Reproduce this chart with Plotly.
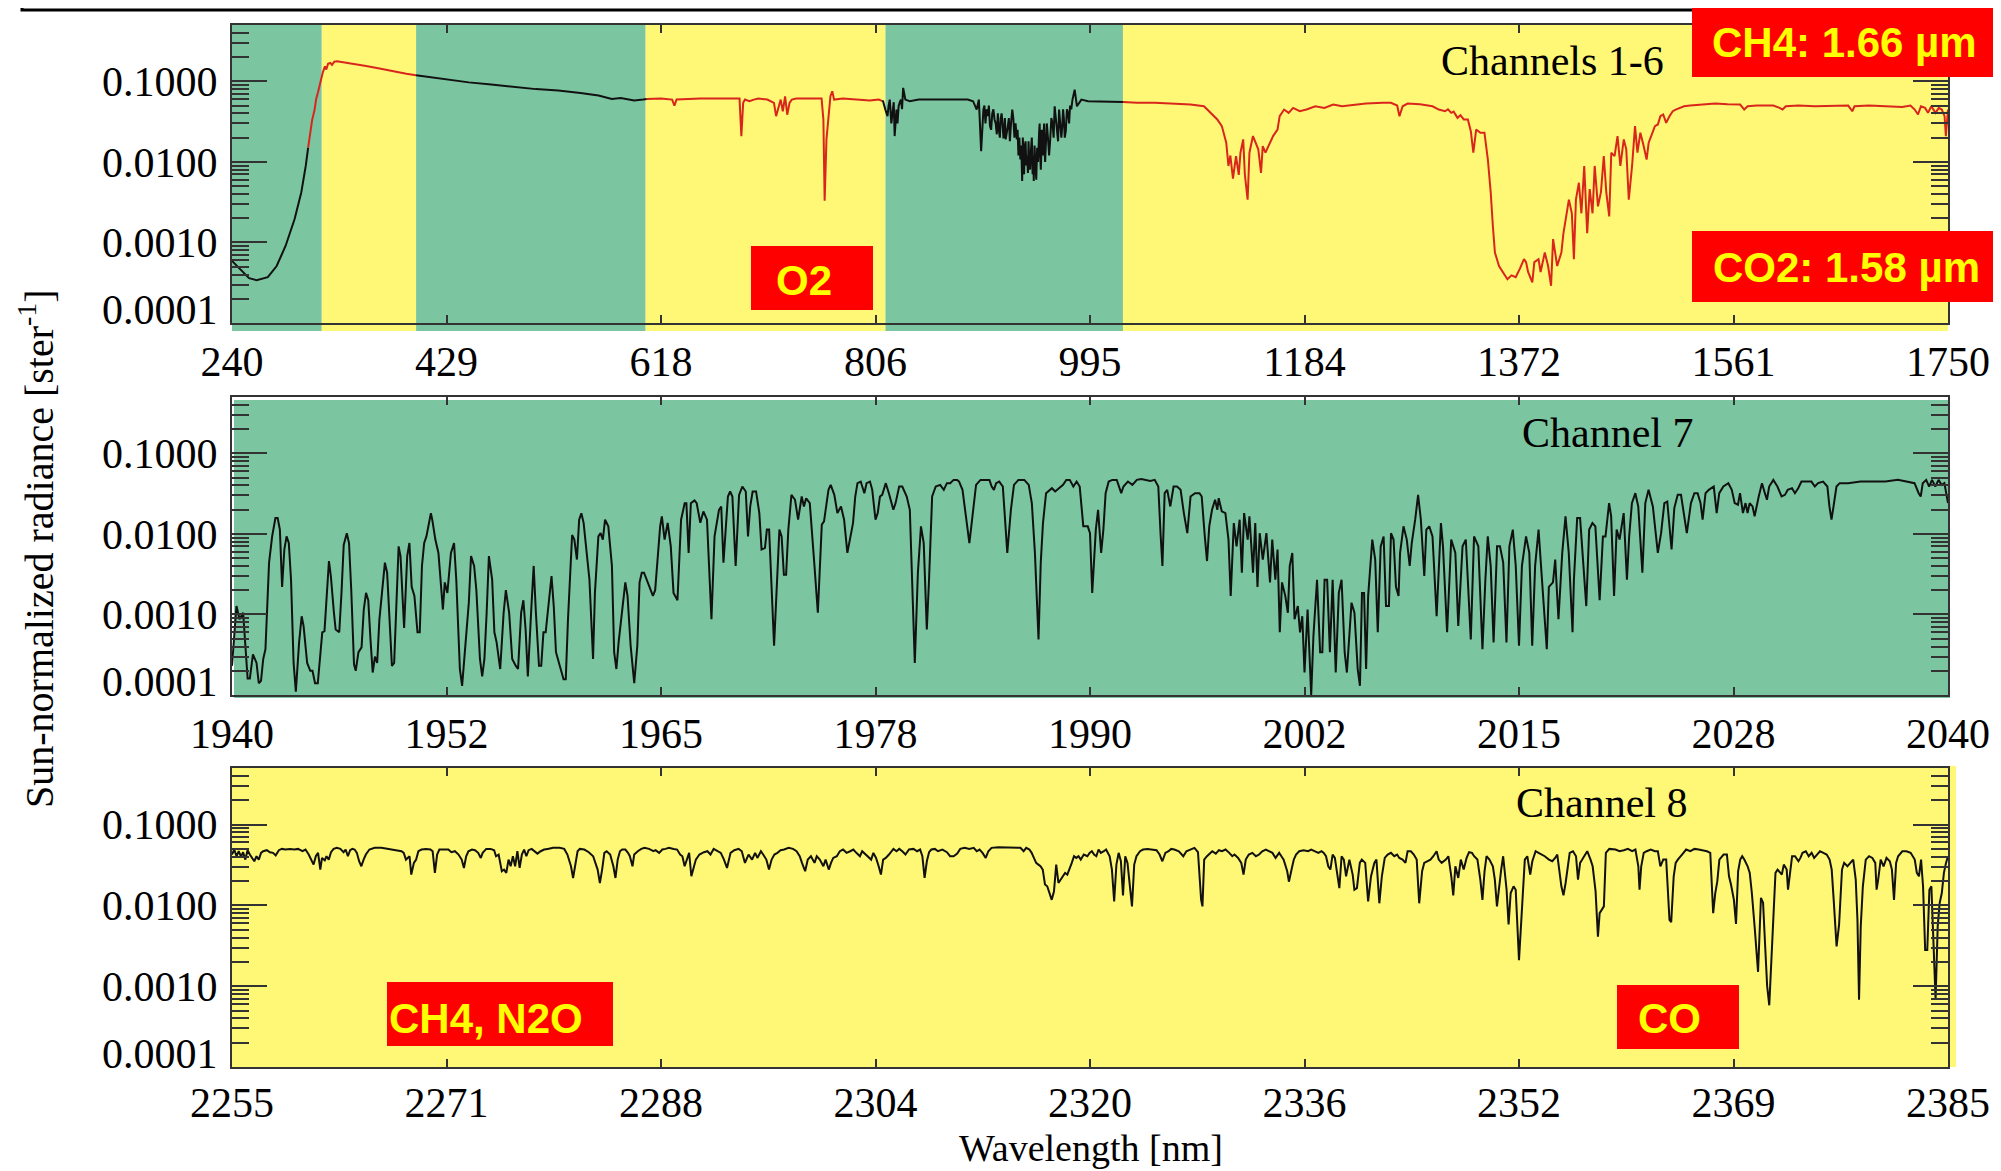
import numpy as np
import plotly.graph_objects as go

# ---------------- data ----------------
# Channels 1-6 (240-1750 nm)
ch16_wavelength = [
    240.0, 249.8, 255.0, 261.6, 271.5, 279.3, 287.2, 295.1, 301.0, 304.9, 306.8, 308.8, 310.5, 312.7, 314.0,
    315.5, 317.0, 318.6, 320.0, 321.8, 323.0, 324.5, 326.5, 328.0, 330.0, 332.4, 338.3, 346.2, 358.0, 369.8,
    381.6, 393.4, 402.0, 413.0, 428.8, 448.4, 468.1, 487.7, 507.4, 527.1, 546.7, 562.5, 574.2, 582.1, 588.0,
    593.9, 601.8, 604.5, 617.5, 627.3, 629.3, 631.2, 652.1, 671.7, 686.6, 688.2, 689.8, 691.4, 695.3, 699.2,
    703.2, 711.0, 716.9, 718.8, 720.8, 722.8, 724.7, 726.7, 728.6, 730.6, 732.6, 736.5, 746.3, 758.8, 760.4,
    761.5, 763.1, 765.1, 766.6, 768.2, 769.8, 777.6, 789.4, 801.2, 809.0, 812.9, 814.9, 816.8, 818.8, 821.5,
    823.1, 824.7, 826.6, 828.6, 830.6, 832.5, 836.4, 844.3, 856.1, 871.9, 887.4, 892.1, 895.3, 897.2, 899.2,
    901.2, 903.0, 905.1, 907.0, 909.0, 911.0, 913.0, 914.9, 916.5, 918.0, 919.5, 920.8, 922.7, 924.5, 926.6,
    928.5, 930.6, 932.0, 933.7, 935.3, 936.5, 937.6, 939.0, 940.4, 941.5, 943.1, 944.5, 945.5, 947.0, 948.5,
    950.2, 951.2, 952.1, 953.0, 954.1, 955.0, 956.1, 958.0, 960.0, 962.0, 963.9, 965.9, 967.8, 969.0, 970.6,
    972.0, 973.7, 975.7, 977.5, 979.6, 981.5, 983.5, 987.4, 993.3, 1005.1, 1023.9, 1036.4, 1052.1, 1067.8, 1083.5,
    1095.3, 1101.2, 1107.0, 1111.0, 1114.9, 1116.8, 1118.5, 1120.8, 1123.5, 1125.9, 1127.4, 1129.8, 1131.3, 1133.7, 1135.3,
    1138.4, 1140.4, 1143.1, 1145.5, 1147.0, 1149.4, 1152.1, 1156.1, 1160.0, 1161.9, 1165.8, 1169.8, 1173.7, 1179.6, 1185.5,
    1193.3, 1201.2, 1209.0, 1216.8, 1223.3, 1237.9, 1252.5, 1259.8, 1265.3, 1267.3, 1270.1, 1274.5, 1285.4, 1296.4, 1301.9,
    1307.4, 1310.0, 1312.9, 1315.0, 1318.4, 1321.0, 1323.9, 1327.5, 1330.1, 1332.3, 1334.8, 1338.5, 1342.1, 1345.1, 1347.6,
    1349.5, 1351.3, 1354.9, 1358.6, 1362.3, 1365.9, 1369.6, 1373.2, 1376.9, 1378.7, 1380.5, 1384.2, 1386.0, 1389.7, 1391.5,
    1395.2, 1398.1, 1400.7, 1402.5, 1406.1, 1409.8, 1411.6, 1414.2, 1416.4, 1419.0, 1420.8, 1422.6, 1425.2, 1427.4, 1429.9,
    1432.5, 1434.7, 1437.2, 1439.1, 1442.0, 1444.6, 1447.1, 1449.3, 1451.9, 1453.7, 1456.6, 1459.2, 1461.7, 1464.7, 1466.9,
    1469.1, 1472.0, 1474.6, 1476.7, 1479.3, 1482.2, 1484.8, 1486.6, 1489.5, 1492.1, 1494.7, 1496.9, 1499.4, 1502.0, 1504.9,
    1507.8, 1510.4, 1514.1, 1517.7, 1523.2, 1534.2, 1545.1, 1556.1, 1567.1, 1570.7, 1573.7, 1581.7, 1596.3, 1601.8, 1604.4,
    1607.3, 1618.3, 1632.9, 1647.5, 1662.2, 1665.8, 1667.7, 1680.5, 1698.8, 1709.7, 1717.0, 1720.7, 1723.6, 1726.2, 1729.8,
    1732.4, 1735.3, 1739.0, 1741.9, 1744.5, 1747.0, 1748.1, 1750.0,
]
ch16_radiance = [
    0.00059, 0.00043, 0.00036, 0.00034, 0.00037, 0.00051, 0.00091, 0.00195, 0.0042, 0.0089, 0.0143, 0.023, 0.033, 0.0446, 0.06,
    0.0718, 0.09, 0.115, 0.13, 0.153, 0.14, 0.165, 0.169, 0.16, 0.175, 0.177, 0.172, 0.164, 0.155, 0.144,
    0.133, 0.124, 0.119, 0.113, 0.105, 0.097, 0.091, 0.085, 0.080, 0.0767, 0.0718, 0.0665, 0.0604, 0.0622, 0.0593,
    0.0577, 0.0593, 0.0604, 0.061, 0.0593, 0.05, 0.0593, 0.061, 0.061, 0.061, 0.0209, 0.054, 0.0593, 0.0566, 0.0593,
    0.061, 0.0593, 0.054, 0.0369, 0.049, 0.0593, 0.0425, 0.0652, 0.0385, 0.054, 0.0593, 0.061, 0.061, 0.061, 0.0336,
    0.0033, 0.019, 0.0446, 0.0652, 0.0752, 0.0593, 0.061, 0.0593, 0.0577, 0.0593, 0.0566, 0.0446, 0.0369, 0.0593, 0.0406,
    0.0209, 0.0446, 0.049, 0.0593, 0.0828, 0.0593, 0.0566, 0.0593, 0.0593, 0.0593, 0.0593, 0.0566, 0.0446, 0.0593, 0.0136,
    0.0446, 0.03, 0.0369, 0.0278, 0.04, 0.0336, 0.022, 0.024, 0.035, 0.0305, 0.02, 0.019, 0.0278, 0.018, 0.0446,
    0.02, 0.019, 0.012, 0.0107, 0.0058, 0.012, 0.0157, 0.009, 0.0073, 0.011, 0.0143, 0.007, 0.0058, 0.0089, 0.015,
    0.023, 0.012, 0.0118, 0.02, 0.0278, 0.015, 0.0157, 0.02, 0.019, 0.03, 0.049, 0.0278, 0.0446, 0.03, 0.0278,
    0.035, 0.024, 0.0406, 0.05, 0.0593, 0.0789, 0.049, 0.0593, 0.0566, 0.0566, 0.0555, 0.054, 0.054, 0.053, 0.0515,
    0.049, 0.0406, 0.0336, 0.0278, 0.0173, 0.0089, 0.012, 0.0062, 0.0118, 0.0069, 0.013, 0.019, 0.0069, 0.0034, 0.013,
    0.0209, 0.0173, 0.0143, 0.0073, 0.0157, 0.013, 0.0157, 0.0209, 0.0252, 0.0369, 0.0446, 0.0406, 0.0468, 0.0425, 0.0446,
    0.049, 0.0468, 0.0515, 0.049, 0.05, 0.053, 0.054, 0.054, 0.05, 0.0369, 0.049, 0.053, 0.0519, 0.049, 0.0446,
    0.0425, 0.045, 0.0406, 0.042, 0.0352, 0.038, 0.0336, 0.0336, 0.024, 0.013, 0.0252, 0.023, 0.023, 0.0107, 0.0042,
    0.0016, 0.00075, 0.00051, 0.00043, 0.00035, 0.00039, 0.00037, 0.00047, 0.00062, 0.00057, 0.00043, 0.00032, 0.00057, 0.00062, 0.00043,
    0.00075, 0.00051, 0.00029, 0.0011, 0.00051, 0.00075, 0.0013, 0.0021, 0.0034, 0.0023, 0.00062, 0.0034, 0.0055, 0.0023, 0.0089,
    0.0013, 0.0046, 0.0023, 0.0089, 0.0028, 0.0042, 0.0118, 0.0042, 0.0021, 0.013, 0.0118, 0.0209, 0.0089, 0.019, 0.0143,
    0.0034, 0.0089, 0.0278, 0.013, 0.023, 0.0157, 0.0107, 0.0173, 0.023, 0.0278, 0.0291, 0.0369, 0.0387, 0.0305, 0.0369,
    0.0425, 0.0446, 0.0468, 0.049, 0.05, 0.0519, 0.053, 0.0519, 0.0515, 0.0446, 0.049, 0.05, 0.05, 0.0468, 0.0446,
    0.049, 0.05, 0.049, 0.05, 0.05, 0.0425, 0.049, 0.05, 0.049, 0.048, 0.05, 0.0446, 0.0387, 0.049, 0.0468,
    0.0406, 0.049, 0.0406, 0.0468, 0.0446, 0.0369, 0.0209, 0.0446,
]
# extra fine structure read in the dense black part of channel 5 (and O2/H2O bands)
ch16_detail_wavelength = [
    817.8, 820.2, 822.3, 825.6, 827.6, 829.6,
    902.1, 904.0, 906.0, 908.0, 910.0, 912.0, 913.9, 915.7, 917.2, 918.8, 920.1, 921.7, 923.6, 925.5, 927.5, 929.5,
    931.3, 932.8, 934.5, 935.9, 937.0, 938.3, 939.7, 940.9, 942.3, 943.8, 945.0, 946.2, 947.7, 949.3, 950.7, 951.7,
    952.6, 953.5, 954.6, 955.5, 957.0, 959.0, 961.0, 963.0, 964.9, 966.9, 968.4, 969.8, 971.3, 972.8, 974.7, 976.6,
    978.5,
]
ch16_detail_radiance = [
    0.05, 0.03, 0.055, 0.03, 0.055, 0.045,
    0.05, 0.045, 0.05, 0.025, 0.045, 0.03, 0.04, 0.02, 0.04, 0.02, 0.035, 0.025, 0.035, 0.03, 0.035, 0.03,
    0.025, 0.02, 0.016, 0.02, 0.007, 0.018, 0.012, 0.018, 0.008, 0.02, 0.012, 0.016, 0.006, 0.01, 0.03, 0.008,
    0.025, 0.012, 0.03, 0.01, 0.03, 0.012, 0.035, 0.02, 0.035, 0.018, 0.035, 0.02, 0.045, 0.02, 0.045, 0.03,
    0.045,
]

# Channel 7 (1940-2040 nm)
ch7_wavelength = [
    1940.00, 1940.26, 1940.44, 1940.65, 1940.78, 1940.91, 1941.04, 1941.22, 1941.43, 1941.56, 1941.69, 1941.82, 1941.95, 1942.16, 1942.34,
    1942.53, 1942.66, 1942.79, 1942.92, 1943.05, 1943.18, 1943.31, 1943.44, 1943.59, 1943.72, 1943.91, 1944.06, 1944.17, 1944.38, 1944.56,
    1944.69, 1944.84, 1945.00, 1945.13, 1945.26, 1945.39, 1945.52, 1945.65, 1945.76, 1945.86, 1945.94, 1946.04, 1946.25, 1946.38, 1946.51,
    1946.69, 1946.82, 1946.95, 1947.11, 1947.21, 1947.37, 1947.55, 1947.68, 1947.81, 1947.94, 1948.07, 1948.20, 1948.33, 1948.46, 1948.59,
    1948.72, 1948.91, 1949.04, 1949.17, 1949.32, 1949.45, 1949.58, 1949.71, 1949.82, 1950.03, 1950.21, 1950.34, 1950.47, 1950.63, 1950.81,
    1950.94, 1951.07, 1951.20, 1951.33, 1951.46, 1951.59, 1951.67, 1951.85, 1952.03, 1952.19, 1952.29, 1952.40, 1952.55, 1952.76, 1952.94,
    1953.07, 1953.28, 1953.41, 1953.59, 1953.80, 1953.93, 1954.11, 1954.24, 1954.45, 1954.58, 1954.71, 1954.84, 1954.97, 1955.16, 1955.29,
    1955.42, 1955.63, 1955.83, 1955.96, 1956.15, 1956.33, 1956.54, 1956.67, 1956.85, 1956.98, 1957.11, 1957.24, 1957.45, 1957.58, 1957.71,
    1957.89, 1958.02, 1958.15, 1958.28, 1958.62, 1958.75, 1958.88, 1959.32, 1959.45, 1959.58, 1959.82, 1959.95, 1960.10, 1960.23, 1960.36,
    1960.49, 1960.83, 1961.04, 1961.15, 1961.35, 1961.48, 1961.61, 1961.74, 1961.93, 1962.14, 1962.27, 1962.40, 1962.53, 1962.92, 1963.05,
    1963.23, 1963.44, 1963.62, 1963.75, 1963.88, 1964.01, 1964.53, 1964.66, 1964.79, 1964.95, 1965.05, 1965.21, 1965.39, 1965.57, 1965.73,
    1965.96, 1966.17, 1966.38, 1966.48, 1966.61, 1966.74, 1966.95, 1967.08, 1967.29,
    1967.47, 1967.68, 1967.94, 1968.12, 1968.38, 1968.51, 1968.64, 1968.90, 1969.03, 1969.16, 1969.35, 1969.55, 1969.74, 1969.94, 1970.07,
    1970.20, 1970.34, 1970.54, 1970.73, 1970.86, 1971.06, 1971.17, 1971.30, 1971.59, 1971.90, 1972.03, 1972.16, 1972.29, 1972.42, 1972.60,
    1972.81, 1972.99, 1973.20, 1973.33, 1973.46, 1973.67, 1973.93, 1974.14, 1974.37, 1974.50, 1974.76, 1974.89, 1975.10, 1975.28, 1975.49,
    1975.67, 1975.86, 1976.06, 1976.19, 1976.32, 1976.45, 1976.64, 1976.85, 1976.98, 1977.18, 1977.31, 1977.50, 1977.63, 1977.76, 1977.89,
    1978.10, 1978.28, 1978.54, 1978.67, 1978.88, 1979.06, 1979.32, 1979.50, 1979.66, 1979.79, 1979.97, 1980.15, 1980.31, 1980.49, 1980.62,
    1980.80, 1981.01, 1981.27, 1981.48, 1981.66, 1981.85, 1982.05, 1982.26, 1982.37, 1982.57, 1982.76, 1982.97, 1983.15, 1983.36, 1983.62,
    1984.14, 1984.27, 1984.40, 1984.53, 1984.71, 1984.92, 1985.18, 1985.39, 1985.57, 1985.83, 1986.17, 1986.43, 1986.61, 1986.79, 1987.00,
    1987.13, 1987.26, 1987.44, 1987.65, 1987.78, 1987.97, 1988.17, 1988.43, 1988.62, 1988.82, 1989.03, 1989.22, 1989.40, 1989.61, 1989.87,
    1990.00, 1990.13, 1990.34, 1990.47, 1990.65, 1990.78, 1990.91, 1991.09, 1991.30, 1991.56, 1991.82, 1991.95, 1992.21, 1992.47, 1992.73,
    1992.99, 1993.25, 1993.51, 1993.77, 1993.98, 1994.11, 1994.22, 1994.35, 1994.50, 1994.68, 1994.87, 1995.07, 1995.28, 1995.47, 1995.67,
    1995.86, 1996.12, 1996.38, 1996.51, 1996.69, 1996.82, 1996.95, 1997.11, 1997.29, 1997.42, 1997.50, 1997.68, 1997.89, 1998.07, 1998.20,
    1998.38, 1998.54, 1998.72, 1998.85, 1998.98, 1999.19, 1999.29, 1999.50, 1999.63, 1999.76, 1999.89, 2000.07, 2000.28, 2000.49, 2000.62,
    2000.80, 2000.93, 2001.06, 2001.19, 2001.38, 2001.53, 2001.64, 2001.79, 2001.92, 2002.11, 2002.24, 2002.37, 2002.50, 2002.68, 2002.89,
    2003.02, 2003.23, 2003.41, 2003.54, 2003.67, 2003.82, 2003.98, 2004.14, 2004.32, 2004.50, 2004.66, 2004.84, 2004.97,
    2005.24, 2005.41, 2005.60, 2005.73, 2005.85, 2005.97, 2006.09, 2006.21, 2006.45, 2006.62, 2006.77, 2006.94, 2007.11, 2007.25, 2007.42,
    2007.54, 2007.69, 2007.83, 2007.98, 2008.07, 2008.27, 2008.46, 2008.63, 2008.75, 2008.95, 2009.12, 2009.28, 2009.48, 2009.60, 2009.77,
    2009.96, 2010.20, 2010.45, 2010.57, 2010.81, 2011.05, 2011.29, 2011.46, 2011.71, 2011.90, 2012.19, 2012.38, 2012.63, 2012.87, 2013.04,
    2013.18, 2013.35, 2013.52, 2013.72, 2013.89, 2014.08, 2014.27, 2014.44, 2014.64, 2014.81, 2015.00, 2015.17, 2015.41, 2015.60, 2015.77,
    2015.94, 2016.14, 2016.31, 2016.62, 2016.74, 2016.98, 2017.11, 2017.30, 2017.52, 2017.71, 2017.90, 2018.12, 2018.20, 2018.39, 2018.56,
    2018.68, 2018.92, 2019.09, 2019.28, 2019.45, 2019.70, 2019.89, 2020.04, 2020.25, 2020.37, 2020.54, 2020.69, 2020.86, 2020.98, 2021.10,
    2021.29, 2021.42, 2021.58, 2021.78, 2021.95, 2022.19, 2022.36, 2022.55, 2022.80, 2023.09, 2023.28, 2023.47, 2023.64, 2023.89, 2024.05,
    2024.25, 2024.44, 2024.61, 2024.78, 2025.02, 2025.22, 2025.41, 2025.58, 2025.70, 2025.87, 2026.06, 2026.35, 2026.52, 2026.67, 2026.91,
    2027.20, 2027.40, 2027.57, 2027.76, 2027.88, 2028.05, 2028.20, 2028.32, 2028.44, 2028.61, 2028.73, 2028.97, 2029.16, 2029.33, 2029.45,
    2029.58, 2029.82, 2030.06, 2030.30, 2030.50, 2030.66, 2030.91, 2031.08, 2031.27, 2031.46, 2031.75, 2032.04, 2032.24, 2032.43, 2032.72,
    2032.97, 2033.09, 2033.21, 2033.33, 2033.50, 2033.69, 2034.18, 2034.90, 2035.63, 2036.35, 2037.08, 2037.57, 2038.05, 2038.29, 2038.41,
    2038.53, 2038.73, 2038.90, 2039.07, 2039.26, 2039.45, 2039.62, 2039.79, 2040.00,
]
ch7_radiance = [
    0.00023, 0.00127, 0.00087, 0.00105, 0.00041, 0.00016, 0.00016, 0.00032, 0.00025, 0.00014, 0.00015, 0.00028, 0.00037, 0.0044, 0.0093,
    0.0157, 0.0157, 0.0113, 0.0022, 0.0064, 0.0093, 0.0077, 0.0027, 0.00025, 0.00011, 0.00045, 0.00095, 0.00072, 0.00025, 0.0002,
    0.0002, 0.00014, 0.00014, 0.00028, 0.0006, 0.00062, 0.00185, 0.0046, 0.003, 0.0014, 0.00105, 0.00065, 0.0006, 0.00185, 0.0073,
    0.0102, 0.0077, 0.002, 0.00024, 0.0002, 0.00034, 0.00039, 0.00115, 0.00185, 0.0015, 0.00049, 0.00019, 0.0003, 0.00025, 0.00087,
    0.00185, 0.0044, 0.0033, 0.00087, 0.00023, 0.00025, 0.00105, 0.007, 0.0053, 0.00068, 0.0053, 0.0077, 0.0022, 0.0017, 0.0006,
    0.0006, 0.004, 0.0077, 0.0093, 0.0124, 0.018, 0.015, 0.0085, 0.0058, 0.00185, 0.00115, 0.0025, 0.00185, 0.0058, 0.0077,
    0.0027, 0.00021, 0.00013, 0.00041, 0.0014, 0.0053, 0.004, 0.002, 0.00028, 0.00017, 0.00028, 0.00105, 0.0053, 0.0027, 0.0006,
    0.00045, 0.00021, 0.00105, 0.002, 0.00105, 0.00028, 0.00023, 0.00021, 0.00105, 0.0015, 0.00065, 0.00017, 0.00127, 0.004, 0.00105,
    0.00023, 0.00023, 0.0006, 0.0006, 0.003, 0.00127, 0.00034, 0.000157, 0.000157, 0.00087, 0.0097, 0.0085, 0.0048, 0.015, 0.018,
    0.0137, 0.0027, 0.00028, 0.00185, 0.0093, 0.0102, 0.0085, 0.015, 0.0124, 0.004, 0.00034, 0.00021, 0.00045, 0.0025, 0.0017,
    0.00041, 0.00014, 0.00041, 0.0025, 0.0033, 0.0033, 0.0017, 0.002, 0.0044, 0.0124, 0.0165, 0.0085, 0.0137, 0.007, 0.00185,
    0.0015, 0.015, 0.024, 0.024, 0.0058, 0.024, 0.026, 0.024, 0.0137,
    0.019, 0.015, 0.00087, 0.0093, 0.0199, 0.0219, 0.0044, 0.0291, 0.0336, 0.0291, 0.004, 0.0305, 0.0387, 0.0336, 0.0093,
    0.0219, 0.0336, 0.0336, 0.0181, 0.0064, 0.0067, 0.0113, 0.0113, 0.00041, 0.0113, 0.0093, 0.0031, 0.0031, 0.0113, 0.0305,
    0.0265, 0.015, 0.0291, 0.0219, 0.0277, 0.0241, 0.0044, 0.00105, 0.013, 0.0143, 0.0352, 0.0406, 0.0305, 0.0181, 0.0219,
    0.015, 0.0058, 0.0102, 0.0136, 0.0291, 0.0426, 0.0446, 0.032, 0.0426, 0.0446, 0.0352, 0.015, 0.0181, 0.0291, 0.0305,
    0.0426, 0.032, 0.0199, 0.0241, 0.0387, 0.0387, 0.0291, 0.0199, 0.0017, 0.00025, 0.0033, 0.0124, 0.0077, 0.00065, 0.0027,
    0.0291, 0.0387, 0.0406, 0.0352, 0.0426, 0.0426, 0.0468, 0.0468, 0.0446, 0.0352, 0.0165, 0.0077, 0.0165, 0.0406, 0.0468,
    0.0468, 0.0387, 0.0352, 0.0426, 0.0446, 0.0387, 0.0058, 0.0199, 0.0406, 0.0468, 0.0468, 0.0406, 0.0241, 0.0058, 0.00049,
    0.0044, 0.0136, 0.032, 0.0352, 0.0369, 0.0336, 0.0369, 0.0406, 0.0468, 0.0468, 0.0387, 0.0446, 0.0387, 0.0124, 0.0124,
    0.0102, 0.00185, 0.0113, 0.0199, 0.0058, 0.0113, 0.032, 0.0446, 0.0468, 0.0468, 0.032, 0.0387, 0.0446, 0.0406, 0.0468,
    0.0481, 0.0468, 0.0455, 0.0468, 0.0387, 0.0102, 0.004, 0.032, 0.0352, 0.0219, 0.0387, 0.0387, 0.0352, 0.0181, 0.0102,
    0.0291, 0.032, 0.032, 0.0291, 0.0093, 0.0046, 0.0124, 0.0199, 0.0265, 0.0199, 0.0277, 0.019, 0.0181, 0.0085, 0.0017,
    0.0136, 0.007, 0.015, 0.0033, 0.0181, 0.0085, 0.0165, 0.0033, 0.0136, 0.0022, 0.0102, 0.0048, 0.0102, 0.0025, 0.0085,
    0.0027, 0.0064, 0.0006, 0.0025, 0.0017, 0.00105, 0.004, 0.0058, 0.00087, 0.00127, 0.0006, 0.00095, 0.00019, 0.00115, 0.0001,
    0.00054, 0.0027, 0.00034, 0.00034, 0.0027, 0.0027, 0.00034, 0.0027, 0.00019, 0.00185, 0.0027, 0.00034, 0.00019,
    0.0014, 0.00105, 0.00021, 0.00013, 0.00185, 0.00185, 0.00021, 0.0017, 0.0085, 0.0048, 0.0006, 0.007, 0.0093, 0.00127, 0.00127,
    0.0102, 0.0085, 0.0022, 0.0017, 0.0058, 0.0124, 0.0085, 0.004, 0.0077, 0.015, 0.0305, 0.015, 0.003, 0.0113, 0.0124,
    0.0093, 0.00095, 0.0136, 0.007, 0.0006, 0.0085, 0.0058, 0.00072, 0.007, 0.0085, 0.00049, 0.0093, 0.007, 0.00037, 0.0027,
    0.0093, 0.004, 0.00045, 0.007, 0.007, 0.0044, 0.00045, 0.007, 0.0113, 0.004, 0.00041, 0.004, 0.0093, 0.0058, 0.00041,
    0.004, 0.0113, 0.0033, 0.00037, 0.0022, 0.0025, 0.0048, 0.00087, 0.0058, 0.0165, 0.0058, 0.0006, 0.0027, 0.0157, 0.0157,
    0.0064, 0.00127, 0.0113, 0.0136, 0.0124, 0.0015, 0.0093, 0.0093, 0.0241, 0.0165, 0.0017, 0.0113, 0.0085, 0.0124, 0.0181,
    0.0027, 0.0093, 0.0241, 0.032, 0.0219, 0.0033, 0.0241, 0.0352, 0.0219, 0.0058, 0.0102, 0.0241, 0.0252, 0.0064, 0.0209,
    0.0305, 0.0305, 0.0165, 0.0102, 0.0241, 0.032, 0.032, 0.0241, 0.015, 0.032, 0.0352, 0.0387, 0.0181, 0.032, 0.0387,
    0.0426, 0.0352, 0.0241, 0.023, 0.032, 0.0181, 0.0241, 0.0181, 0.0241, 0.0219, 0.0165, 0.0291, 0.0426, 0.032, 0.0265,
    0.0387, 0.0468, 0.0387, 0.0291, 0.0305, 0.0352, 0.0369, 0.032, 0.0369, 0.0446, 0.0446, 0.0446, 0.0387, 0.0426, 0.0446,
    0.0387, 0.0219, 0.015, 0.0219, 0.0387, 0.0426, 0.0426, 0.0446, 0.0446, 0.0446, 0.0468, 0.0446, 0.0426, 0.032, 0.0291,
    0.0426, 0.0468, 0.0387, 0.0468, 0.0387, 0.0468, 0.0406, 0.0426, 0.0241,
]

# Channel 8 (2255-2385 nm)
ch8_wavelength = [
    2255.00, 2255.17, 2255.34, 2255.51, 2255.68, 2255.84, 2256.01, 2256.18, 2256.35, 2256.52, 2256.69, 2256.86, 2257.03, 2257.20, 2257.36,
    2257.64, 2257.87, 2258.11, 2258.31, 2258.55, 2258.78, 2259.05, 2259.39, 2259.73, 2260.00, 2260.34, 2260.57, 2260.81, 2261.01, 2261.18,
    2261.35, 2261.52, 2261.69, 2261.82, 2262.03, 2262.16, 2262.33, 2262.50, 2262.70, 2262.94, 2263.21, 2263.45, 2263.61, 2263.78, 2263.95,
    2264.12, 2264.29, 2264.46, 2264.63, 2264.80, 2264.97, 2265.14, 2265.41, 2265.81, 2266.32, 2266.82, 2267.16, 2267.50, 2267.84, 2268.01,
    2268.18, 2268.45, 2268.58, 2268.78, 2268.95, 2269.12, 2269.36, 2269.70, 2270.03, 2270.20, 2270.37, 2270.54, 2270.71, 2271.05, 2271.39,
    2271.62, 2271.89, 2272.16, 2272.40, 2272.57, 2272.74, 2272.91, 2273.18, 2273.41, 2273.65, 2273.85, 2273.99, 2274.26, 2274.59, 2274.86,
    2275.00, 2275.20, 2275.44, 2275.61, 2275.78, 2275.95, 2276.11, 2276.28, 2276.45, 2276.62, 2276.79, 2276.96, 2277.13, 2277.30, 2277.47,
    2277.70, 2277.91, 2278.14, 2278.38, 2278.65, 2278.92, 2279.32, 2279.83, 2280.17, 2280.41, 2280.68, 2280.84, 2281.01, 2281.18, 2281.35,
    2281.69, 2282.03, 2282.36, 2282.70, 2282.87, 2283.04, 2283.21, 2283.38, 2283.65, 2283.89, 2284.05, 2284.22, 2284.39, 2284.56, 2284.80,
    2285.00, 2285.14, 2285.34, 2285.47, 2285.74, 2286.01, 2286.25, 2286.59, 2286.93, 2287.09, 2287.36, 2287.60, 2287.84, 2288.11, 2288.45,
    2288.72, 2288.95, 2289.12, 2289.29, 2289.46, 2289.63, 2289.80, 2289.97, 2290.14, 2290.41,
    2290.75, 2291.02, 2291.25, 2291.49, 2291.76, 2292.03, 2292.27, 2292.50, 2292.77, 2293.05, 2293.38, 2293.62, 2293.86, 2294.13, 2294.40,
    2294.63, 2294.80, 2295.07, 2295.24, 2295.48, 2295.68, 2295.88, 2296.09, 2296.32, 2296.56, 2296.83, 2297.17, 2297.50, 2297.77, 2298.01,
    2298.18, 2298.42, 2298.62, 2298.86, 2299.13, 2299.30, 2299.53, 2299.80, 2299.97, 2300.21, 2300.38, 2300.55, 2300.82, 2301.05, 2301.29,
    2301.56, 2301.83, 2302.07, 2302.30, 2302.57, 2302.74, 2302.98, 2303.25, 2303.42, 2303.59, 2303.79, 2303.99, 2304.16, 2304.33, 2304.53,
    2304.77, 2304.94, 2305.11, 2305.34, 2305.55, 2305.78, 2306.02, 2306.29, 2306.63, 2306.90, 2307.13, 2307.30, 2307.47, 2307.64, 2307.81,
    2307.98, 2308.25, 2308.48, 2308.82, 2309.16, 2309.40, 2309.67, 2309.94, 2310.17, 2310.51, 2310.85, 2311.19, 2311.42, 2311.63, 2311.86,
    2312.10, 2312.30, 2312.54, 2313.05, 2313.72, 2314.40, 2314.73, 2314.97, 2315.17, 2315.41, 2315.58, 2315.75, 2315.92, 2316.09, 2316.25,
    2316.42, 2316.59, 2316.76, 2316.93, 2317.10, 2317.27, 2317.44, 2317.61, 2317.77, 2317.94, 2318.11, 2318.28, 2318.45, 2318.62, 2318.79,
    2318.96, 2319.13, 2319.30, 2319.53, 2319.80, 2319.97, 2320.14, 2320.31, 2320.48, 2320.65, 2320.82, 2321.05, 2321.22, 2321.49, 2321.66,
    2321.83, 2322.00, 2322.17, 2322.34, 2322.50, 2322.67, 2322.84, 2323.01, 2323.18, 2323.35, 2323.52, 2323.79, 2324.02, 2324.36, 2324.70,
    2325.04, 2325.27, 2325.48, 2325.71, 2325.95, 2326.15, 2326.39, 2326.73, 2327.07, 2327.30, 2327.57, 2327.91, 2328.18, 2328.42, 2328.52,
    2328.65, 2328.86, 2329.09, 2329.26, 2329.53, 2329.77, 2330.00, 2330.27, 2330.55, 2330.78, 2330.95, 2331.22, 2331.46, 2331.63, 2331.80,
    2332.03, 2332.30, 2332.57, 2332.81, 2333.05, 2333.32, 2333.59, 2333.82, 2334.06, 2334.33, 2334.50, 2334.67, 2334.94, 2335.07, 2335.27,
    2335.44, 2335.61, 2335.85, 2336.19, 2336.52, 2336.76, 2337.03, 2337.30, 2337.54, 2337.71, 2337.88, 2338.05, 2338.21, 2338.38, 2338.55,
    2338.72, 2338.89, 2339.06, 2339.23, 2339.40,
    2339.65, 2339.90, 2340.03, 2340.22, 2340.44, 2340.59, 2340.85, 2341.07, 2341.29, 2341.54, 2341.70, 2341.92, 2342.11, 2342.33, 2342.55,
    2342.80, 2343.05, 2343.27, 2343.43, 2343.68, 2343.90, 2344.06, 2344.31, 2344.53, 2344.75, 2344.94, 2345.16, 2345.32, 2345.57, 2345.79,
    2346.01, 2346.26, 2346.42, 2346.64, 2346.96, 2347.15, 2347.37, 2347.52, 2347.68, 2347.90, 2348.09, 2348.31, 2348.53, 2348.72, 2348.94,
    2349.10, 2349.35, 2349.57, 2349.73, 2349.89, 2350.04, 2350.26, 2350.52, 2350.67, 2350.83, 2350.99, 2351.15, 2351.30, 2351.56, 2351.71,
    2351.87, 2352.09, 2352.25, 2352.50, 2352.66, 2352.82, 2352.94, 2353.13, 2353.35, 2353.51, 2353.76, 2353.98, 2354.20, 2354.45, 2354.77,
    2355.02, 2355.24, 2355.40, 2355.71, 2355.87, 2356.03, 2356.19, 2356.34, 2356.59, 2356.82, 2356.97, 2357.13, 2357.29, 2357.45, 2357.67,
    2357.92, 2358.08, 2358.30, 2358.48, 2358.61, 2358.77, 2358.93, 2359.08, 2359.34, 2359.81, 2360.12, 2360.44, 2360.75, 2361.07, 2361.32,
    2361.54, 2361.63, 2361.76, 2361.95, 2362.17, 2362.48, 2362.80, 2363.02, 2363.21, 2363.43, 2363.65, 2363.90, 2364.03, 2364.22, 2364.37,
    2364.53, 2364.85, 2365.16, 2365.48, 2365.79, 2366.11, 2366.42, 2366.74, 2366.99, 2367.21, 2367.37, 2367.52, 2367.68, 2368.00, 2368.25,
    2368.41, 2368.56, 2368.78, 2368.94, 2369.10, 2369.26, 2369.41, 2369.57, 2369.82, 2369.98, 2370.14, 2370.36, 2370.61, 2370.83, 2370.99,
    2371.15, 2371.30, 2371.46, 2371.62, 2371.78, 2371.93, 2372.09, 2372.41, 2372.56, 2372.78, 2372.88, 2373.04, 2373.19, 2373.41, 2373.67,
    2373.82, 2373.98, 2374.23, 2374.45, 2374.67, 2374.86, 2375.08, 2375.30, 2375.56, 2375.81, 2376.03, 2376.19, 2376.34, 2376.56, 2376.75,
    2376.97, 2377.13, 2377.38, 2377.60, 2377.82, 2378.01, 2378.14, 2378.26, 2378.39, 2378.55, 2378.77, 2379.02, 2379.27, 2379.49, 2379.59,
    2379.71, 2379.90, 2380.12, 2380.34, 2380.59, 2380.75, 2380.91, 2381.07, 2381.22, 2381.54, 2381.85, 2382.17, 2382.48, 2382.64, 2382.80,
    2382.96, 2383.11, 2383.27, 2383.43, 2383.59, 2383.74, 2383.90, 2384.06, 2384.22, 2384.37, 2384.53, 2384.69, 2384.85, 2385.00,
]
ch8_radiance = [
    0.0425, 0.049, 0.0405, 0.0467, 0.040, 0.0454, 0.0368, 0.0481, 0.0425, 0.0386, 0.0351, 0.0405, 0.0368, 0.0446, 0.0467,
    0.0481, 0.0454, 0.0446, 0.0415, 0.0481, 0.0499, 0.049, 0.0499, 0.049, 0.0499, 0.0467, 0.049, 0.0425, 0.0368, 0.0319,
    0.0405, 0.0446, 0.0277, 0.0386, 0.036, 0.0405, 0.0368, 0.0454, 0.0499, 0.0514, 0.0499, 0.0454, 0.049, 0.0405, 0.0481,
    0.0499, 0.049, 0.0446, 0.0351, 0.0304, 0.0368, 0.0425, 0.049, 0.0514, 0.0514, 0.0499, 0.049, 0.0481, 0.0467, 0.0446,
    0.0368, 0.0405, 0.024, 0.0335, 0.0368, 0.0467, 0.049, 0.0499, 0.049, 0.0467, 0.0252, 0.0425, 0.049, 0.049, 0.049,
    0.0454, 0.0467, 0.0425, 0.0368, 0.029, 0.0405, 0.0467, 0.049, 0.0481, 0.0446, 0.0386, 0.0446, 0.0499, 0.0499, 0.0481,
    0.0405, 0.0425, 0.0264, 0.0277, 0.0252, 0.0368, 0.0304, 0.0405, 0.0304, 0.0467, 0.029, 0.0425, 0.049, 0.0405, 0.0481,
    0.0499, 0.0467, 0.0436, 0.0467, 0.049, 0.0499, 0.0514, 0.0514, 0.0499, 0.0425, 0.0304, 0.0218, 0.0335, 0.0467, 0.0499,
    0.049, 0.0454, 0.0405, 0.0277, 0.0189, 0.0277, 0.0446, 0.0467, 0.0425, 0.0304, 0.0218, 0.0368, 0.0467, 0.049, 0.049,
    0.0446, 0.0405, 0.0304, 0.0425, 0.0467, 0.0499, 0.0514, 0.0499, 0.0467, 0.0481, 0.0446, 0.049, 0.0499, 0.0514, 0.0499,
    0.049, 0.0425, 0.0405, 0.0304, 0.0368, 0.0446, 0.0229, 0.0304, 0.0368, 0.0425,
    0.0454, 0.0467, 0.0425, 0.0499, 0.0467, 0.0446, 0.0368, 0.029, 0.0446, 0.0481, 0.0499, 0.0467, 0.0335, 0.0425, 0.0368,
    0.0446, 0.0386, 0.0467, 0.0425, 0.0368, 0.0277, 0.0368, 0.0425, 0.0446, 0.0481, 0.049, 0.0514, 0.0499, 0.0467, 0.0405,
    0.0335, 0.0264, 0.0368, 0.0405, 0.0335, 0.0405, 0.0368, 0.0304, 0.0368, 0.0277, 0.0335, 0.0386, 0.0405, 0.0467, 0.049,
    0.0446, 0.0467, 0.049, 0.0446, 0.0405, 0.0467, 0.0425, 0.0386, 0.0368, 0.0446, 0.0386, 0.0304, 0.024, 0.0368, 0.0386,
    0.0425, 0.0454, 0.0499, 0.0467, 0.0499, 0.0467, 0.0425, 0.049, 0.0499, 0.0467, 0.049, 0.0405, 0.0218, 0.0351, 0.0454,
    0.049, 0.0499, 0.0467, 0.049, 0.0454, 0.0405, 0.0405, 0.0436, 0.0499, 0.0514, 0.0499, 0.0514, 0.0467, 0.049, 0.0446,
    0.0386, 0.0467, 0.0514, 0.0524, 0.0524, 0.0524, 0.0514, 0.0467, 0.0514, 0.049, 0.0446, 0.0386, 0.0335, 0.0319, 0.0304,
    0.0277, 0.0181, 0.0172, 0.0137, 0.0117, 0.0148, 0.0319, 0.0189, 0.0208, 0.0229, 0.0252, 0.024, 0.0277, 0.0335, 0.0405,
    0.0386, 0.0405, 0.0368, 0.0425, 0.0405, 0.0446, 0.0467, 0.0425, 0.0405, 0.049, 0.0446, 0.0467, 0.049, 0.0405, 0.0277,
    0.0112, 0.0319, 0.0446, 0.0351, 0.0133, 0.0405, 0.0335, 0.0189, 0.0097, 0.0319, 0.0405, 0.0467, 0.049, 0.0499, 0.049,
    0.0481, 0.0425, 0.0351, 0.0446, 0.0467, 0.0499, 0.049, 0.0467, 0.0405, 0.0467, 0.049, 0.0514, 0.0454, 0.0117, 0.0097,
    0.0368, 0.0405, 0.0446, 0.0467, 0.0436, 0.0481, 0.0467, 0.049, 0.0446, 0.0405, 0.0425, 0.0386, 0.0335, 0.024, 0.0368,
    0.0425, 0.0446, 0.0405, 0.0425, 0.0467, 0.049, 0.0467, 0.0446, 0.0386, 0.0446, 0.0405, 0.0368, 0.0264, 0.0196, 0.0277,
    0.0368, 0.0425, 0.0467, 0.0481, 0.0467, 0.049, 0.0467, 0.0446, 0.0467, 0.0446, 0.0405, 0.0304, 0.0277, 0.0425, 0.0386,
    0.0264, 0.0163, 0.0405, 0.0368, 0.0229,
    0.0368, 0.024, 0.0156, 0.0163, 0.0335, 0.0368, 0.0335, 0.0112, 0.0229, 0.0335, 0.0368, 0.0106, 0.0229, 0.0386, 0.0425,
    0.0446, 0.0405, 0.0425, 0.0386, 0.0368, 0.0335, 0.0467, 0.0467, 0.0425, 0.0368, 0.0106, 0.0264, 0.0335, 0.0351, 0.0368,
    0.0405, 0.0467, 0.0368, 0.0335, 0.0368, 0.0405, 0.0229, 0.0133, 0.0304, 0.0218, 0.0368, 0.0277, 0.0386, 0.0454, 0.0446,
    0.0405, 0.0368, 0.0208, 0.0117, 0.0264, 0.0405, 0.0368, 0.0304, 0.0208, 0.0097, 0.0172, 0.0277, 0.0405, 0.0156, 0.0058,
    0.0142, 0.0172, 0.0156, 0.0021, 0.0066, 0.0208, 0.0368, 0.0405, 0.024, 0.0351, 0.0467, 0.0446, 0.0425, 0.0405, 0.0368,
    0.0351, 0.0386, 0.0425, 0.0172, 0.0133, 0.0189, 0.0277, 0.0446, 0.0467, 0.0405, 0.0208, 0.0335, 0.0368, 0.0405, 0.0467,
    0.0368, 0.0304, 0.015, 0.0041, 0.008, 0.0088, 0.0097, 0.0446, 0.0499, 0.049, 0.0467, 0.0481, 0.0499, 0.0467, 0.049,
    0.0304, 0.0156, 0.0304, 0.0446, 0.0467, 0.049, 0.0467, 0.0467, 0.0304, 0.0368, 0.0368, 0.0066, 0.0062, 0.0229, 0.0335,
    0.0368, 0.0425, 0.049, 0.0467, 0.0499, 0.049, 0.0481, 0.0467, 0.0446, 0.008, 0.0142, 0.0196, 0.0368, 0.0425, 0.0425,
    0.0229, 0.0181, 0.0117, 0.0059, 0.0264, 0.0368, 0.0405, 0.0368, 0.0304, 0.0252, 0.0142, 0.0052, 0.0015, 0.0124, 0.0108,
    0.0031, 0.001, 0.00058, 0.0021, 0.0066, 0.0252, 0.0277, 0.024, 0.0319, 0.0277, 0.0156, 0.0252, 0.0405, 0.0405, 0.0351,
    0.0386, 0.0446, 0.0467, 0.0405, 0.0446, 0.0386, 0.0425, 0.0467, 0.0446, 0.0425, 0.0368, 0.0277, 0.0117, 0.0031, 0.0058,
    0.0277, 0.0335, 0.0304, 0.0335, 0.0368, 0.0208, 0.0066, 0.00068, 0.0055, 0.0172, 0.0368, 0.0405, 0.0386, 0.0335, 0.0156,
    0.0208, 0.0368, 0.0304, 0.0386, 0.0351, 0.0277, 0.0117, 0.0335, 0.0405, 0.0467, 0.0467, 0.0446, 0.0368, 0.0252, 0.0229,
    0.0368, 0.0172, 0.0028, 0.0028, 0.0156, 0.0172, 0.0043, 0.00068, 0.0055, 0.0107, 0.0142, 0.0252, 0.0335, 0.0405,
]

# channel bands of the top panel and their colours
band_edges = [240, 319, 402, 604, 815, 1024, 1750]
band_fill = ["green", "yellow", "green", "yellow", "green", "yellow"]
line_edges = [240, 307, 402, 605, 812, 1024, 1750]
line_colour = ["black", "red", "black", "red", "black", "red"]

# axes
x1_tickvals = [240, 428.75, 617.5, 806.25, 995, 1183.75, 1372.5, 1561.25, 1750]
x1_ticktext = ["240", "429", "618", "806", "995", "1184", "1372", "1561", "1750"]
x2_tickvals = [1940, 1952.5, 1965, 1977.5, 1990, 2002.5, 2015, 2027.5, 2040]
x2_ticktext = ["1940", "1952", "1965", "1978", "1990", "2002", "2015", "2028", "2040"]
x3_tickvals = [2255, 2271.25, 2287.5, 2303.75, 2320, 2336.25, 2352.5, 2368.75, 2385]
x3_ticktext = ["2255", "2271", "2288", "2304", "2320", "2336", "2352", "2369", "2385"]
y_tickvals = [0.0001, 0.001, 0.01, 0.1]
y_ticktext = ["0.0001", "0.0010", "0.0100", "0.1000"]
y_max = 0.5

# ---------------- layout helpers ----------------
# the page puts the figure 8 px from the top-left corner; coordinates below are page pixels
OFF = 8
W, H = 2001 - OFF, 1171 - OFF
ML, MR, MT, MB = 232 - OFF, 53, 25 - OFF, 104
PW = W - ML - MR
PH = H - MT - MB


def px(x):
    return (x - OFF - ML) / PW


def py(y):
    return (H - MB - (y - OFF)) / PH


GREEN = "#7BC5A1"
YELLOW = "#FFF776"
RED_LINE = "#D9261C"
COLORS = {"green": GREEN, "yellow": YELLOW, "black": "#111111", "red": RED_LINE}
SERIF = "Liberation Serif, Times New Roman, serif"
SANS = "Liberation Sans, Arial, sans-serif"
AX = "#333333"
TICKSIZE = 42

fig = go.Figure()

# top panel: coloured line segments per channel
wl_all = np.array(ch16_wavelength + ch16_detail_wavelength)
rv_all = np.array(ch16_radiance + ch16_detail_radiance)
order = np.argsort(wl_all)
wl = wl_all[order]
lv = np.log10(rv_all[order])
for a, b, c in zip(line_edges[:-1], line_edges[1:], line_colour):
    m = (wl > a) & (wl < b)
    xs = np.concatenate([[a], wl[m], [b]])
    ys = 10 ** np.concatenate([[np.interp(a, wl, lv)], lv[m], [np.interp(b, wl, lv)]])
    fig.add_trace(go.Scatter(x=xs, y=ys, mode="lines", line=dict(color=COLORS[c], width=2),
                             xaxis="x", yaxis="y", showlegend=False, hoverinfo="skip"))

fig.add_trace(go.Scatter(x=ch7_wavelength, y=ch7_radiance, mode="lines",
                         line=dict(color="#111111", width=2), xaxis="x2", yaxis="y2",
                         showlegend=False, hoverinfo="skip"))
fig.add_trace(go.Scatter(x=ch8_wavelength, y=ch8_radiance, mode="lines",
                         line=dict(color="#111111", width=2), xaxis="x3", yaxis="y3",
                         showlegend=False, hoverinfo="skip"))

shapes = []
for a, b, c in zip(band_edges[:-1], band_edges[1:], band_fill):
    shapes.append(dict(type="rect", xref="x", yref="paper", x0=a, x1=b, y0=py(331), y1=py(25),
                       fillcolor=COLORS[c], line=dict(width=0), layer="below"))
shapes.append(dict(type="rect", xref="paper", yref="paper", x0=px(234), x1=px(1950), y0=py(698), y1=py(400),
                   fillcolor=GREEN, line=dict(width=0), layer="below"))
shapes.append(dict(type="rect", xref="paper", yref="paper", x0=px(232), x1=px(1956), y0=py(1067), y1=py(766),
                   fillcolor=YELLOW, line=dict(width=0), layer="below"))
# frame fragment at the top of the page
shapes.append(dict(type="rect", xref="paper", yref="paper", x0=px(22), x1=px(1963), y0=py(10), y1=py(-30),
                   fillcolor="rgba(0,0,0,0)", line=dict(color="black", width=3)))
red_boxes = [(1692, 6, 2001, 77), (1692, 231, 2001, 302), (751, 246, 873, 310),
             (387, 982, 613, 1046), (1617, 985, 1739, 1049)]
for x0, y0, x1, y1 in red_boxes:
    shapes.append(dict(type="rect", xref="paper", yref="paper", x0=px(x0), x1=px(x1), y0=py(y1), y1=py(y0),
                       fillcolor="#FF0000", line=dict(width=0), layer="above"))

annotations = []
for text, x, y in [("CH4: 1.66 µm", 1844, 42), ("CO2: 1.58 µm", 1846, 267), ("O2", 804, 280),
                   ("CH4, N2O", 486, 1018), ("CO", 1669, 1018)]:
    annotations.append(dict(text="<b>%s</b>" % text, x=px(x), y=py(y), xref="paper", yref="paper",
                            showarrow=False, xanchor="center", yanchor="middle",
                            font=dict(family=SANS, size=42, color="#FFFF00")))
for text, x, y in [("Channels 1-6", 1552, 61), ("Channel 7", 1607, 433), ("Channel 8", 1601, 803)]:
    annotations.append(dict(text=text, x=px(x), y=py(y), xref="paper", yref="paper", showarrow=False,
                            xanchor="center", yanchor="middle", font=dict(family=SERIF, size=42, color="black")))
# lowest decade label sits slightly above the bottom of each panel
for ybot in (323, 695, 1067):
    annotations.append(dict(text=y_ticktext[0], x=px(220), y=py(ybot - 13), xref="paper", yref="paper",
                            showarrow=False, xanchor="right", yanchor="middle",
                            font=dict(family=SERIF, size=TICKSIZE, color="black")))
annotations.append(dict(text="Sun-normalized radiance [ster<sup>-1</sup>]", x=px(36), y=py(549),
                        xref="paper", yref="paper", showarrow=False, textangle=-90,
                        xanchor="center", yanchor="middle", font=dict(family=SERIF, size=40, color="black")))
annotations.append(dict(text="Wavelength [nm]", x=px(1091), y=py(1148), xref="paper", yref="paper",
                        showarrow=False, xanchor="center", yanchor="middle",
                        font=dict(family=SERIF, size=38, color="black")))

minor_vals = [k * 10.0 ** e for e in range(-4, 0) for k in range(2, 10) if k * 10.0 ** e <= y_max]


def xaxis(rng, tv, tt, anchor, standoff=1):
    return dict(domain=[0, 1], range=rng, anchor=anchor, tickmode="array", tickvals=tv, ticktext=tt,
                ticks="inside", ticklen=8, tickwidth=1.5, tickcolor=AX, mirror="ticks", showline=True,
                linecolor=AX, linewidth=2, showgrid=False, zeroline=False,
                tickfont=dict(family=SERIF, size=TICKSIZE, color="black"), ticklabelstandoff=standoff)


def yaxis(dom, anchor):
    return dict(domain=list(dom), type="log", range=[-4, np.log10(y_max)], anchor=anchor,
                tickmode="array", tickvals=y_tickvals[1:], ticktext=y_ticktext[1:],
                ticks="inside", ticklen=35, tickwidth=1.5, tickcolor=AX, mirror="ticks",
                showline=True, linecolor=AX, linewidth=2, showgrid=False, zeroline=False,
                minor=dict(tickmode="array", tickvals=minor_vals, ticks="inside", ticklen=17,
                           tickwidth=1.5, tickcolor=AX, showgrid=False),
                tickfont=dict(family=SERIF, size=TICKSIZE, color="black"), ticklabelstandoff=4)


fig.update_layout(
    width=W, height=H, margin=dict(l=ML, r=MR, t=MT, b=MB),
    paper_bgcolor="white", plot_bgcolor="rgba(0,0,0,0)", showlegend=False,
    xaxis=xaxis([240, 1750], x1_tickvals, x1_ticktext, "y"),
    xaxis2=xaxis([1940, 2040], x2_tickvals, x2_ticktext, "y2"),
    xaxis3=xaxis([2255, 2385], x3_tickvals, x3_ticktext, "y3", standoff=-2),
    yaxis=yaxis((py(323), py(25)), "x"),
    yaxis2=yaxis((py(695), py(397)), "x2"),
    yaxis3=yaxis((py(1067), py(768)), "x3"),
    shapes=shapes, annotations=annotations,
)

fig.write_html("out.html")
